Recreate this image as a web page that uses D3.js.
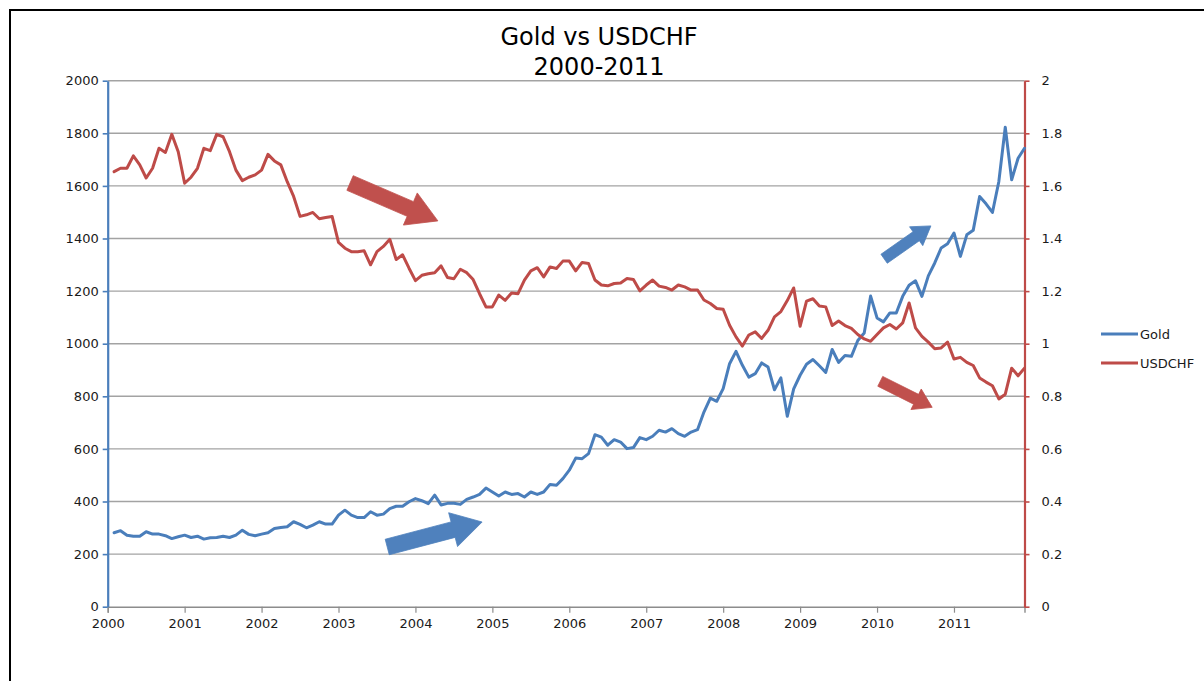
<!DOCTYPE html>
<html>
<head>
<meta charset="utf-8">
<script src="https://cdn.jsdelivr.net/npm/d3@7"></script>
<style>
  html, body { margin: 0; padding: 0; background: #fff; }
  svg { display: block; font-family: "DejaVu Sans", Verdana, sans-serif; }
</style>
</head>
<body>
<svg id="chart" width="1204" height="681"></svg>
<script>
// ---- data (monthly, Feb 2000 .. Dec 2011) ----
const titleLines = ["Gold vs USDCHF", "2000-2011"];
const yearLabels = ["2000","2001","2002","2003","2004","2005","2006","2007","2008","2009","2010","2011"];
const goldTicks = [0, 200, 400, 600, 800, 1000, 1200, 1400, 1600, 1800, 2000];
const chfTicks = [0, 0.2, 0.4, 0.6, 0.8, 1, 1.2, 1.4, 1.6, 1.8, 2];
const seriesNames = ["Gold", "USDCHF"];

const gold = [
  281, 289, 272, 268, 268, 285, 276, 276, 270, 259, 266, 272,
  263, 268, 257, 262, 263, 268, 263, 272, 291, 275, 270, 276,
  281, 297, 301, 304, 323, 313, 300, 310, 323, 314, 314, 348,
  367, 348, 339, 339, 361, 348, 352, 373, 382, 382, 399, 411,
  403, 392, 424, 387, 393, 393, 389, 408, 417, 427, 451, 436,
  421, 436, 427, 430, 417, 436, 427, 436, 465, 462, 487, 519,
  565, 563, 582, 654, 645, 614, 635, 626, 601, 605, 643, 635,
  648, 671, 664, 677, 658, 648, 664, 673, 740, 793, 781, 829,
  924, 971, 918, 873, 886, 927, 911, 825, 870, 724, 828, 880,
  922, 940, 916, 891, 978, 929, 955, 952, 1012, 1041, 1181, 1098,
  1083, 1117, 1117, 1180, 1222, 1239, 1180, 1258, 1307, 1364, 1380, 1421,
  1332, 1414, 1431, 1560, 1532, 1499, 1617, 1823, 1623, 1705, 1743
];

const usdchf = [
  1.654, 1.667, 1.667, 1.714, 1.680, 1.630, 1.667, 1.743, 1.727, 1.796, 1.730, 1.610,
  1.633, 1.667, 1.743, 1.734, 1.796, 1.787, 1.730, 1.660, 1.620, 1.633, 1.642, 1.660,
  1.720, 1.695, 1.680, 1.616, 1.560, 1.484, 1.490, 1.499, 1.475, 1.480, 1.484, 1.385,
  1.363, 1.350, 1.350, 1.353, 1.300, 1.350, 1.370, 1.397, 1.320, 1.338, 1.287, 1.240,
  1.260, 1.266, 1.270, 1.296, 1.252, 1.247, 1.283, 1.270, 1.244, 1.190, 1.140, 1.140,
  1.185, 1.165, 1.193, 1.190, 1.242, 1.277, 1.289, 1.254, 1.292, 1.286, 1.314, 1.314,
  1.277, 1.309, 1.305, 1.242, 1.223, 1.220, 1.229, 1.231, 1.248, 1.244, 1.201, 1.223,
  1.242, 1.219, 1.214, 1.204, 1.223, 1.216, 1.204, 1.204, 1.166, 1.153, 1.134, 1.131,
  1.070, 1.026, 0.991, 1.033, 1.045, 1.020, 1.051, 1.102, 1.122, 1.164, 1.212, 1.066,
  1.162, 1.171, 1.143, 1.140, 1.069, 1.086, 1.069, 1.058, 1.035, 1.018, 1.009, 1.035,
  1.060, 1.073, 1.056, 1.079, 1.155, 1.060, 1.028, 1.006, 0.981, 0.984, 1.006, 0.942,
  0.948, 0.929, 0.917, 0.870, 0.854, 0.840, 0.790, 0.808, 0.907, 0.878, 0.907
];

// annotation arrows: [tailMonth, tailGold, tipMonth, tipGold] in data space
const arrowSeries = ["red", "blue", "blue", "red"];
const arrowCoords = [
  [37.8, 1611, 51.5, 1467],
  [43.6, 227, 58.4, 322],
  [121.1, 1323, 128.4, 1448],
  [120.5, 857, 128.6, 758]
];

// ---- layout / styles ----
const C = { blue: "#4a7ebb", red: "#be4b48", grid: "#a3a3a3", text: "#1a1a1a" };
const L = 107.7, R = 1024.5, T = 80.7, B = 606.7;

const svg = d3.select("#chart");

// frame
svg.append("rect").attr("x", 10).attr("y", 10).attr("width", 1240).attr("height", 720)
  .attr("fill", "none").attr("stroke", "#000").attr("stroke-width", 2);

const x = d3.scaleLinear().domain([0, 143]).range([L, R]);
const yG = d3.scaleLinear().domain([0, 2000]).range([B, T]);
const yC = d3.scaleLinear().domain([0, 2]).range([B, T]);

// gridlines
svg.append("g").selectAll("line").data(goldTicks.slice(1)).join("line")
  .attr("x1", L).attr("x2", R).attr("y1", d => yG(d)).attr("y2", d => yG(d))
  .attr("stroke", C.grid).attr("stroke-width", 1.4);

// title
svg.append("g").selectAll("text").data(titleLines).join("text")
  .attr("x", 599).attr("y", (d, i) => 45 + i * 29.5)
  .attr("text-anchor", "middle").attr("font-size", 24).attr("fill", "#000")
  .text(d => d);

// x axis
const yearTicks = yearLabels.map((d, i) => i * 12);
const xAxis = d3.axisBottom(x).tickValues(yearTicks).tickSize(6).tickPadding(6)
  .tickFormat((d, i) => yearLabels[i]);
const gx = svg.append("g").attr("transform", `translate(0,${B})`).call(xAxis);
gx.select(".domain").attr("stroke", "#8c8c8c").attr("stroke-width", 1.4);
gx.selectAll(".tick line").attr("stroke", "#8c8c8c").attr("stroke-width", 1.2);
gx.selectAll("text").attr("font-size", 13).attr("fill", C.text)
  .attr("font-family", "DejaVu Sans, Verdana, sans-serif");

// left axis
const gl = svg.append("g").attr("transform", `translate(${L},0)`)
  .call(d3.axisLeft(yG).tickValues(goldTicks).tickSize(5).tickPadding(4).tickSizeOuter(0).tickFormat(d3.format("d")));
gl.select(".domain").attr("stroke", C.blue).attr("stroke-width", 2.2);
gl.selectAll(".tick line").attr("stroke", C.blue).attr("stroke-width", 1.6);
gl.selectAll("text").attr("font-size", 13).attr("fill", C.text)
  .attr("font-family", "DejaVu Sans, Verdana, sans-serif");

// right axis
const gr = svg.append("g").attr("transform", `translate(${R},0)`)
  .call(d3.axisRight(yC).tickValues(chfTicks).tickSize(5).tickPadding(12).tickSizeOuter(0).tickFormat(d3.format("~g")));
gr.select(".domain").attr("stroke", C.red).attr("stroke-width", 2.2);
gr.selectAll(".tick line").attr("stroke", C.red).attr("stroke-width", 1.6);
gr.selectAll("text").attr("font-size", 13).attr("fill", C.text)
  .attr("font-family", "DejaVu Sans, Verdana, sans-serif");

// lines
const goldLine = d3.line().x((d, i) => x(i + 1)).y(d => yG(d));
const chfLine = d3.line().x((d, i) => x(i + 1)).y(d => yC(d));
svg.append("path").datum(gold).attr("d", goldLine)
  .attr("fill", "none").attr("stroke", C.blue).attr("stroke-width", 3)
  .attr("stroke-linejoin", "round").attr("stroke-linecap", "round");
svg.append("path").datum(usdchf).attr("d", chfLine)
  .attr("fill", "none").attr("stroke", C.red).attr("stroke-width", 3)
  .attr("stroke-linejoin", "round").attr("stroke-linecap", "round");

// arrows
function arrowPath(a, big) {
  const x0 = x(a[0]), y0 = yG(a[1]), x1 = x(a[2]), y1 = yG(a[3]);
  const dx = x1 - x0, dy = y1 - y0, len = Math.hypot(dx, dy);
  const ux = dx / len, uy = dy / len, nx = -uy, ny = ux;
  const sw = big ? 8 : 5.5, hw = big ? 17.5 : 11.5, hl = big ? 30 : 18;
  const bx = x1 - ux * hl, by = y1 - uy * hl;
  const p = [
    [x0 + nx * sw, y0 + ny * sw],
    [bx + nx * sw, by + ny * sw],
    [bx + nx * hw, by + ny * hw],
    [x1, y1],
    [bx - nx * hw, by - ny * hw],
    [bx - nx * sw, by - ny * sw],
    [x0 - nx * sw, y0 - ny * sw]
  ];
  return "M" + p.map(q => q.join(",")).join("L") + "Z";
}
svg.append("g").selectAll("path").data(arrowCoords).join("path")
  .attr("d", (d, i) => arrowPath(d, i < 2))
  .attr("fill", (d, i) => arrowSeries[i] === "red" ? "#c0504d" : "#4f81bd")
  .attr("stroke", (d, i) => arrowSeries[i] === "red" ? "#c0504d" : "#4f81bd")
  .attr("stroke-width", 0.8);

// legend
const lg = svg.append("g").selectAll("g").data(seriesNames).join("g")
  .attr("transform", (d, i) => `translate(1101,${334 + i * 29})`);
lg.append("line").attr("x1", 0).attr("x2", 37).attr("y1", 0).attr("y2", 0)
  .attr("stroke", (d, i) => i === 0 ? C.blue : C.red).attr("stroke-width", 3);
lg.append("text").attr("x", 39).attr("y", 0).attr("dy", "0.35em")
  .attr("font-size", 13).attr("fill", C.text).text(d => d);
</script>
</body>
</html>
